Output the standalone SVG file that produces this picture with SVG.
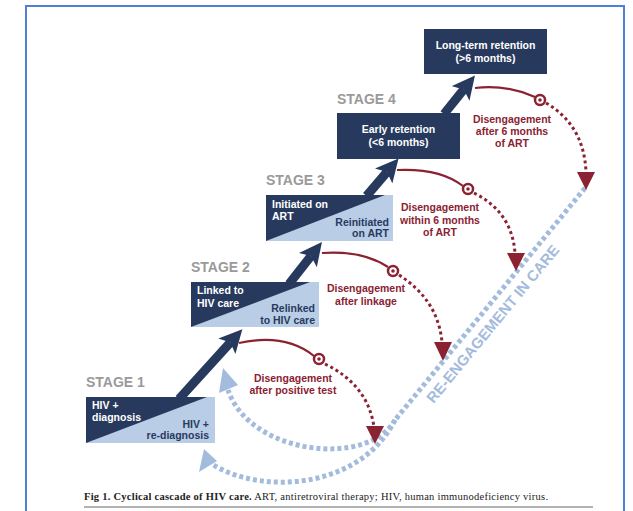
<svg xmlns="http://www.w3.org/2000/svg" width="633" height="511" viewBox="0 0 633 511">
<defs>
<style>
.navy{fill:#273a5e}
.light{fill:#b9cde6}
.wt{fill:#ffffff;font-family:"Liberation Sans",Arial,sans-serif;font-weight:bold;font-size:10.5px}
.dt{fill:#273a5e;font-family:"Liberation Sans",Arial,sans-serif;font-weight:bold;font-size:10.5px;text-anchor:end}
.stage{fill:#9a9a9a;font-family:"Liberation Sans",Arial,sans-serif;font-weight:bold;font-size:14px}
.rt{fill:#8b2232;font-family:"Liberation Sans",Arial,sans-serif;font-weight:bold;font-size:10.5px;text-anchor:middle}
.shaft{stroke:#273a5e;stroke-width:9;fill:none;marker-end:url(#navyHead)}
.solid{stroke:#8b2232;stroke-width:2.2;fill:none}
.dots{stroke:#8b2232;stroke-width:3;fill:none;stroke-dasharray:3 3}
.target{fill:#ffffff;stroke:#8b2232;stroke-width:2.5}
.redtri{fill:#8b2232}
.blue{stroke:#a3bbdc;stroke-width:5;fill:none;stroke-dasharray:4 3}
.bluetri{fill:#a3bbdc}
</style>
<marker id="navyHead" viewBox="0 0 22 22" refX="5" refY="11" markerWidth="23" markerHeight="23" markerUnits="userSpaceOnUse" orient="auto">
<path d="M0,0 L22,11 L0,22 L5,11 Z" fill="#273a5e"/>
</marker>
</defs>
<rect width="633" height="511" fill="#ffffff"/>
<path d="M26,512 V6 H624 V512" fill="none" stroke="#4f7fd6" stroke-width="2"/>

<g id="connectors">
<path class="shaft" d="M179,399 L230.4,342.4"/>
<path class="shaft" d="M289,284 L311,256"/>
<path class="shaft" d="M366.5,196 L387,172"/>
<path class="shaft" d="M444,114 L463.8,89.4"/>

<path class="blue" d="M585,188 L395,420"/>
<path class="blue" d="M395,420 C368,468 250,455 228,390"/>
<path class="blue" d="M395,420 C360,490 260,495 212,464"/>
<polygon class="bluetri" points="223,368 238,385 219,393"/>
<polygon class="bluetri" points="204,449 217,461 199,472"/>

<path class="solid" d="M239,343 Q285,333 314,356"/>
<path class="dots" d="M325,364 Q368,385 374,427"/>
<circle class="target" cx="319" cy="359" r="5"/><circle cx="319" cy="359" r="1.8" fill="#8b2232"/>
<polygon class="redtri" points="366,426 384,426 375,444"/>

<path class="solid" d="M322,253 Q362,250 388,267"/>
<path class="dots" d="M399,275 Q438,300 442,342"/>
<circle class="target" cx="393" cy="271" r="5"/><circle cx="393" cy="271" r="1.8" fill="#8b2232"/>
<polygon class="redtri" points="434,342 452,342 443,361"/>

<path class="solid" d="M397,170 Q440,168 463,186"/>
<path class="dots" d="M474,193 Q512,212 515,253"/>
<circle class="target" cx="468" cy="189" r="5"/><circle cx="468" cy="189" r="1.8" fill="#8b2232"/>
<polygon class="redtri" points="507,253 525,253 516,271"/>

<path class="solid" d="M475,88 Q505,84 535,97"/>
<path class="dots" d="M546,103 Q584,125 586,172"/>
<circle class="target" cx="540" cy="100" r="5"/><circle cx="540" cy="100" r="1.8" fill="#8b2232"/>
<polygon class="redtri" points="577,172 595,172 586,190"/>
</g>

<g id="stage1">
<rect class="light" x="86" y="397" width="129" height="46"/>
<polygon class="navy" points="86,397 207,397 86,443"/>
<text class="stage" x="86" y="387">STAGE 1</text>
<text class="wt" x="92" y="409">HIV +</text>
<text class="wt" x="92" y="421">diagnosis</text>
<text class="dt" x="209" y="428">HIV +</text>
<text class="dt" x="209" y="439">re-diagnosis</text>
</g>

<g id="stage2">
<rect class="light" x="191" y="282" width="128" height="45"/>
<polygon class="navy" points="191,282 310,282 191,327"/>
<text class="stage" x="191" y="272">STAGE 2</text>
<text class="wt" x="197" y="294">Linked to</text>
<text class="wt" x="197" y="307">HIV care</text>
<text class="dt" x="315" y="312">Relinked</text>
<text class="dt" x="315" y="324">to HIV care</text>
</g>

<g id="stage3">
<rect class="light" x="266" y="195" width="127" height="46"/>
<polygon class="navy" points="266,195 385,195 266,241"/>
<text class="stage" x="266" y="185">STAGE 3</text>
<text class="wt" x="272" y="208">Initiated on</text>
<text class="wt" x="272" y="220">ART</text>
<text class="dt" x="389" y="226">Reinitiated</text>
<text class="dt" x="389" y="237">on ART</text>
</g>

<g id="stage4">
<rect class="navy" x="337" y="113" width="123" height="46"/>
<text class="stage" x="337" y="104">STAGE 4</text>
<text class="wt" x="398.5" y="133" text-anchor="middle">Early retention</text>
<text class="wt" x="398.5" y="146" text-anchor="middle">(&lt;6 months)</text>
</g>

<g id="longterm">
<rect class="navy" x="424" y="29" width="123" height="45"/>
<text class="wt" x="485.5" y="49" text-anchor="middle">Long-term retention</text>
<text class="wt" x="485.5" y="62" text-anchor="middle">(&gt;6 months)</text>
</g>

<g id="labels">
<text class="rt" x="293" y="382">Disengagement</text>
<text class="rt" x="293" y="394">after positive test</text>
<text class="rt" x="366" y="292">Disengagement</text>
<text class="rt" x="366" y="305">after linkage</text>
<text class="rt" x="440" y="211">Disengagement</text>
<text class="rt" x="440" y="224">within 6 months</text>
<text class="rt" x="440" y="236">of ART</text>
<text class="rt" x="512" y="123">Disengagement</text>
<text class="rt" x="512" y="135">after 6 months</text>
<text class="rt" x="512" y="147">of ART</text>
<text x="0" y="0" transform="translate(493,324) rotate(-50.5)" text-anchor="middle" dy="5" fill="#a3bbdc" font-family="'Liberation Sans',Arial,sans-serif" font-weight="bold" font-size="15">RE-ENGAGEMENT IN CARE</text>
</g>

<g id="caption">
<text x="84" y="500" font-family="'Liberation Serif','Times New Roman',serif" font-size="10.5" fill="#222" textLength="464" lengthAdjust="spacing"><tspan font-weight="bold">Fig 1. Cyclical cascade of HIV care.</tspan> ART, antiretroviral therapy; HIV, human immunodeficiency virus.</text>
<line x1="84" y1="507" x2="593" y2="507" stroke="#999999" stroke-width="1.5"/>
</g>
</svg>
